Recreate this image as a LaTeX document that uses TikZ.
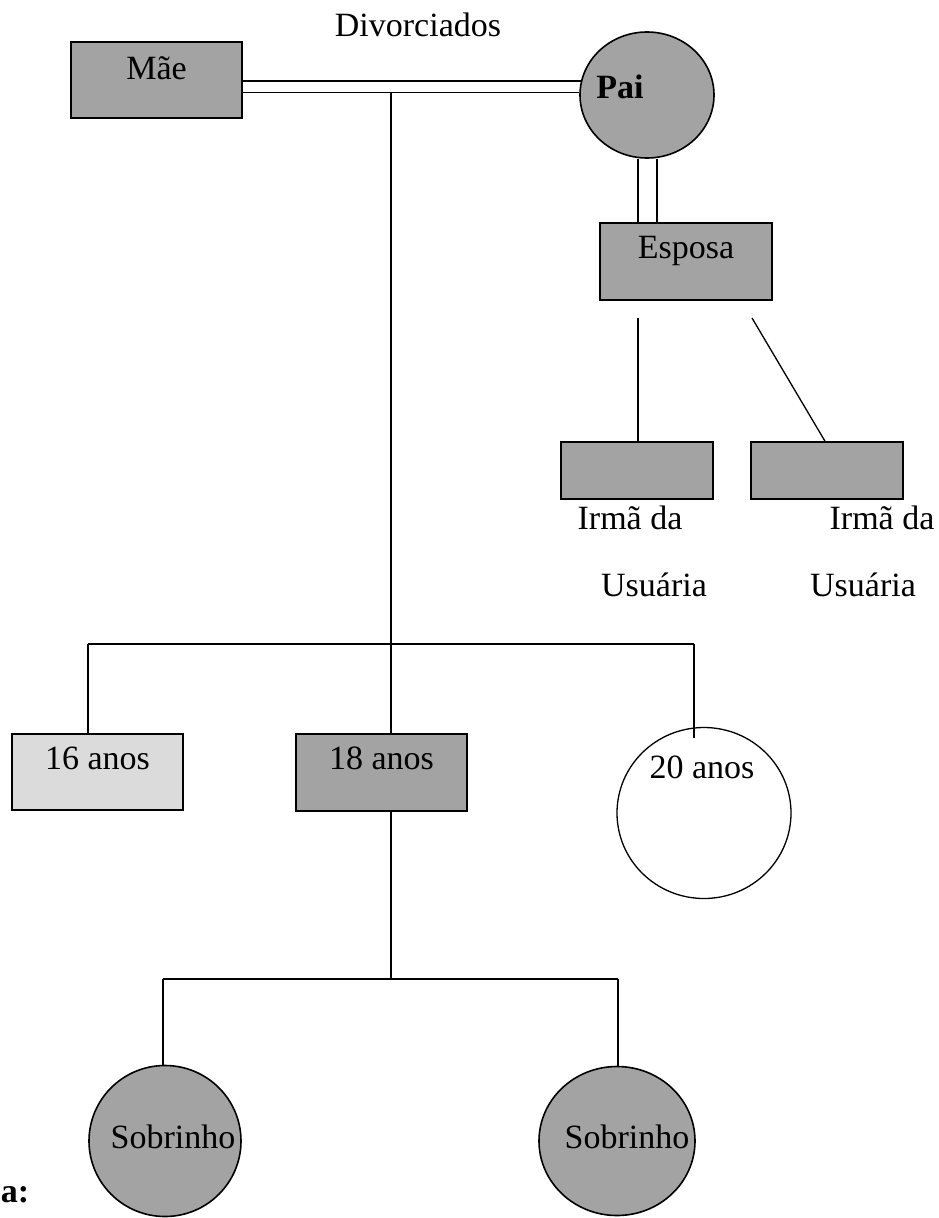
\documentclass[tikz,border=0pt]{standalone}
\usepackage{fontspec}
\setmainfont{Liberation Serif}
\usetikzlibrary{shapes.geometric}

\definecolor{shade}{rgb}{0.64,0.64,0.64}
\definecolor{lightshade}{rgb}{0.86,0.86,0.86}

\tikzset{
  every node/.style={font=\fontsize{34}{40}\selectfont, text=black},
  person/.style={draw=black, line width=1.6pt, fill=shade, inner sep=0pt},
  malebox/.style={person, rectangle},
  femaleoval/.style={person, ellipse},
  tie/.style={line width=1.3pt, draw=black},
  caption/.style={inner sep=0pt}
}

\begin{document}
\begin{tikzpicture}[x=1pt, y=-1pt]
  \useasboundingbox (0,0) rectangle (938,1218);

  % parents
  \node[caption] (div) at (418,25) {Divorciados};
  \node[malebox, minimum width=171pt, minimum height=76pt,
        label={[caption, yshift=12pt]center:Mãe}] (mae) at (156.5,80) {};
  \node[femaleoval, minimum width=134pt, minimum height=126pt,
        label={[caption, xshift=-27pt, yshift=8pt]center:\textbf{Pai}}] (pai) at (647,95) {};

  % father's new family
  \node[malebox, minimum width=172pt, minimum height=77pt,
        label={[caption, yshift=11pt]center:Esposa}] (esposa) at (686,261.5) {};
  \node[malebox, minimum width=152pt, minimum height=57pt] (irma1) at (637,470.5) {};
  \node[malebox, minimum width=152pt, minimum height=57pt] (irma2) at (827,470.5) {};
  \node[caption] (irma1a) at (630,518) {Irmã da};
  \node[caption] (irma1b) at (654,585) {Usuária};
  \node[caption] (irma2a) at (882,518) {Irmã da};
  \node[caption] (irma2b) at (863,585) {Usuária};

  % children
  \node[malebox, fill=lightshade, minimum width=171pt, minimum height=76pt,
        label={[caption, yshift=14pt]center:16 anos}] (f16) at (97.5,772) {};
  \node[malebox, minimum width=171pt, minimum height=77pt,
        label={[caption, yshift=14pt]center:18 anos}] (f18) at (381.5,772.5) {};
  \node[femaleoval, fill=white, line width=1.3pt, minimum width=174pt, minimum height=171pt,
        label={[caption, xshift=-2pt, yshift=46pt]center:20 anos}] (f20) at (704,813) {};

  % grandchildren
  \node[femaleoval, minimum width=152pt, minimum height=151pt,
        label={[caption, xshift=8pt, yshift=4pt]center:Sobrinho}] (sob1) at (165,1141) {};
  \node[femaleoval, minimum width=156pt, minimum height=149pt,
        label={[caption, xshift=10pt, yshift=4pt]center:Sobrinho}] (sob2) at (617,1141) {};

  \node[caption] (leg) at (15,1195) {\textbf{a:}};

  % junction points
  \coordinate (trunk) at (391,93);
  \coordinate (kidbar) at (391,644);
  \coordinate (k16) at (88,644);
  \coordinate (k20) at (694,644);
  \coordinate (k20end) at (694,738);
  \coordinate (nbar) at (391,979);
  \coordinate (n1) at (163,979);
  \coordinate (n2) at (618,979);
  \coordinate (e1) at (638,318);
  \coordinate (e2) at (752,318);

  % divorced couple: double line
  \draw[tie] (mae.east |- pai.168) -- (pai.168);
  \draw[tie] (mae.east |- pai.178) -- (pai.178);

  % couple to children
  \draw[tie] (trunk) -- (kidbar);
  \draw[tie] (k16) -- (k20);
  \draw[tie] (k16) -- (k16 |- f16.north);
  \draw[tie] (kidbar) -- (kidbar |- f18.north);
  \draw[tie] (k20) -- (k20end);

  % father and wife: double line
  \draw[tie] ([xshift=-9pt]pai.south) -- ([xshift=-9pt]pai.south |- esposa.north);
  \draw[tie] ([xshift=10pt]pai.south) -- ([xshift=10pt]pai.south |- esposa.north);

  % wife's daughters
  \draw[tie] (e1) -- (e1 |- irma1.north);
  \draw[tie] (e2) -- ([xshift=-2pt]irma2.north);

  % 18-year-old's children
  \draw[tie] (f18.south -| nbar) -- (nbar);
  \draw[tie] (n1) -- (n2);
  \draw[tie] (n1) -- (n1 |- sob1.north);
  \draw[tie] (n2) -- (n2 |- sob2.north);
\end{tikzpicture}
\end{document}
